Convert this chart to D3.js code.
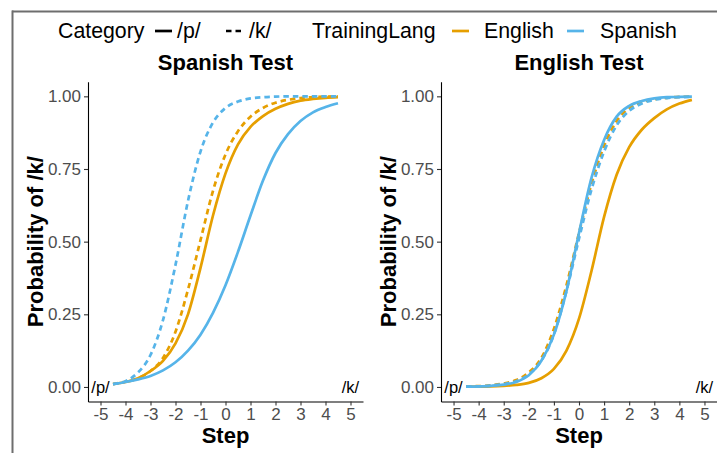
<!DOCTYPE html>
<html>
<head>
<meta charset="utf-8">
<script src="https://cdn.jsdelivr.net/npm/d3@7"></script>
<style>
  html, body { margin: 0; padding: 0; background: #fff; }
  svg { display: block; font-family: "Liberation Sans", Arial, sans-serif; }
</style>
</head>
<body>
<svg id="chart" width="717" height="453"></svg>
<script>
// ---- data ----
const steps = [-4.5, -4, -3.5, -3, -2.5, -2, -1.5, -1, -0.5, 0, 0.5, 1, 1.5, 2, 2.5, 3, 3.5, 4, 4.5];
const panels = ["Spanish Test", "English Test"];
const trainingLangs = ["English", "Spanish"];
const categories = ["/p/", "/k/"];
const xTicks = [-5, -4, -3, -2, -1, 0, 1, 2, 3, 4, 5];
const yTicks = [0, 0.25, 0.5, 0.75, 1];

// Spanish Test panel
const spaTest_Eng_p = [0.01, 0.017, 0.03, 0.055, 0.09, 0.15, 0.25, 0.41, 0.59, 0.735, 0.835, 0.895, 0.932, 0.957, 0.974, 0.985, 0.991, 0.995, 0.997];
const spaTest_Eng_k = [0.01, 0.018, 0.03, 0.055, 0.10, 0.19, 0.335, 0.505, 0.675, 0.80, 0.88, 0.93, 0.96, 0.978, 0.988, 0.994, 0.997, 0.999, 1.0];
const spaTest_Spa_p = [0.01, 0.017, 0.026, 0.038, 0.057, 0.085, 0.125, 0.18, 0.255, 0.35, 0.465, 0.59, 0.71, 0.805, 0.87, 0.915, 0.945, 0.963, 0.976];
const spaTest_Spa_k = [0.01, 0.02, 0.05, 0.11, 0.23, 0.42, 0.64, 0.81, 0.91, 0.96, 0.982, 0.993, 0.997, 0.999, 1.0, 1.0, 1.0, 1.0, 1.0];

// English Test panel
const engTest_Eng_p = [0.001, 0.001, 0.002, 0.004, 0.007, 0.014, 0.03, 0.062, 0.125, 0.235, 0.40, 0.585, 0.73, 0.825, 0.885, 0.925, 0.955, 0.975, 0.988];
const engTest_Eng_k = [0.002, 0.003, 0.006, 0.012, 0.024, 0.05, 0.10, 0.20, 0.35, 0.53, 0.70, 0.83, 0.915, 0.96, 0.98, 0.99, 0.995, 0.998, 0.999];
const engTest_Spa_p = [0.001, 0.002, 0.004, 0.008, 0.017, 0.04, 0.09, 0.18, 0.33, 0.53, 0.72, 0.85, 0.93, 0.967, 0.984, 0.993, 0.997, 0.998, 0.999];
const engTest_Spa_k = [0.001, 0.002, 0.005, 0.01, 0.02, 0.043, 0.09, 0.18, 0.33, 0.51, 0.68, 0.81, 0.90, 0.95, 0.975, 0.988, 0.994, 0.997, 0.998];

const colors = { English: "#E69F00", Spanish: "#56B4E9" };

const panelSeries = [
  [
    { lang: "English", cat: "/p/", values: spaTest_Eng_p },
    { lang: "English", cat: "/k/", values: spaTest_Eng_k },
    { lang: "Spanish", cat: "/p/", values: spaTest_Spa_p },
    { lang: "Spanish", cat: "/k/", values: spaTest_Spa_k }
  ],
  [
    { lang: "English", cat: "/p/", values: engTest_Eng_p },
    { lang: "English", cat: "/k/", values: engTest_Eng_k },
    { lang: "Spanish", cat: "/p/", values: engTest_Spa_p },
    { lang: "Spanish", cat: "/k/", values: engTest_Spa_k }
  ]
];

// ---- layout ----
const svg = d3.select("#chart");
const panelX = [[88, 363], [441, 717]];
const yRange = [401.5, 81.8];

// frame
svg.append("line").attr("x1", 12).attr("x2", 717).attr("y1", 11.5).attr("y2", 11.5)
  .attr("stroke", "#6e6e6e").attr("stroke-width", 2);
svg.append("line").attr("x1", 12.5).attr("x2", 12.5).attr("y1", 10.5).attr("y2", 453)
  .attr("stroke", "#6e6e6e").attr("stroke-width", 2);

const y = d3.scaleLinear().domain([-0.05, 1.05]).range(yRange);

panels.forEach((title, i) => {
  const x = d3.scaleLinear().domain([-5.5, 5.5]).range(panelX[i]);
  const g = svg.append("g");

  // curves
  const line = d3.line()
    .x((d, j) => x(steps[j]))
    .y(d => y(d))
    .curve(d3.curveMonotoneX);
  panelSeries[i].forEach(s => {
    g.append("path")
      .attr("d", line(s.values))
      .attr("fill", "none")
      .attr("stroke", colors[s.lang])
      .attr("stroke-width", 2.7)
      .attr("stroke-dasharray", s.cat === "/k/" ? "5.5,4" : null);
  });

  // x axis
  const xAxis = d3.axisBottom(x).tickValues(xTicks).tickSize(4).tickSizeOuter(0).tickPadding(2)
    .tickFormat(d => String(d));
  const gx = g.append("g").attr("transform", `translate(0,${yRange[0]})`).call(xAxis);
  gx.select(".domain").attr("stroke", "#000").attr("stroke-width", 1.1);
  gx.selectAll(".tick line").attr("stroke", "#333").attr("stroke-width", 1.1);
  gx.selectAll(".tick text").attr("fill", "#4D4D4D").attr("font-size", 17)
    .attr("font-family", "Liberation Sans, Arial, sans-serif");

  // y axis
  const yAxis = d3.axisLeft(y).tickValues(yTicks).tickSize(4).tickSizeOuter(0).tickPadding(3)
    .tickFormat(d3.format(".2f"));
  const gy = g.append("g").attr("transform", `translate(${panelX[i][0]},0)`).call(yAxis);
  gy.select(".domain").attr("stroke", "#000").attr("stroke-width", 1.1);
  gy.selectAll(".tick line").attr("stroke", "#333").attr("stroke-width", 1.1);
  gy.selectAll(".tick text").attr("fill", "#4D4D4D").attr("font-size", 17)
    .attr("font-family", "Liberation Sans, Arial, sans-serif");

  // annotations
  g.append("text").attr("x", x(-5)).attr("y", y(0)).attr("dy", "0.35em")
    .attr("text-anchor", "middle").attr("font-size", 16.5).attr("fill", "#000").text(categories[0]);
  g.append("text").attr("x", x(5)).attr("y", y(0)).attr("dy", "0.35em")
    .attr("text-anchor", "middle").attr("font-size", 16.5).attr("fill", "#000").text(categories[1]);

  // panel title
  g.append("text").attr("x", (panelX[i][0] + panelX[i][1]) / 2).attr("y", 70)
    .attr("text-anchor", "middle").attr("font-size", 22).attr("font-weight", "bold")
    .attr("fill", "#000").text(title);

  // axis titles
  g.append("text").attr("x", (panelX[i][0] + panelX[i][1]) / 2).attr("y", 443)
    .attr("text-anchor", "middle").attr("font-size", 22).attr("font-weight", "bold")
    .attr("fill", "#000").text("Step");
  const yc = (yRange[0] + yRange[1]) / 2;
  const tx = panelX[i][0] - 45;
  g.append("text").attr("transform", `translate(${tx},${yc}) rotate(-90)`)
    .attr("text-anchor", "middle").attr("font-size", 22).attr("font-weight", "bold")
    .attr("fill", "#000").text("Probability of /k/");
});

// ---- legend ----
const lg = svg.append("g").attr("font-size", 21.3).attr("fill", "#000");
const ly = 31, lb = 38;
lg.append("text").attr("x", 58).attr("y", lb).text("Category");
lg.append("line").attr("x1", 155).attr("x2", 172).attr("y1", ly).attr("y2", ly)
  .attr("stroke", "#000").attr("stroke-width", 2.7);
lg.append("text").attr("x", 177).attr("y", lb).text(categories[0]);
lg.append("line").attr("x1", 226).attr("x2", 244).attr("y1", ly).attr("y2", ly)
  .attr("stroke", "#000").attr("stroke-width", 2.7).attr("stroke-dasharray", "5.5,4");
lg.append("text").attr("x", 249).attr("y", lb).text(categories[1]);
lg.append("text").attr("x", 312).attr("y", lb).text("TrainingLang");
lg.append("line").attr("x1", 452).attr("x2", 469).attr("y1", ly).attr("y2", ly)
  .attr("stroke", colors.English).attr("stroke-width", 2.7);
lg.append("text").attr("x", 484).attr("y", lb).text(trainingLangs[0]);
lg.append("line").attr("x1", 567).attr("x2", 584).attr("y1", ly).attr("y2", ly)
  .attr("stroke", colors.Spanish).attr("stroke-width", 2.7);
lg.append("text").attr("x", 600).attr("y", lb).text(trainingLangs[1]);
</script>
</body>
</html>
